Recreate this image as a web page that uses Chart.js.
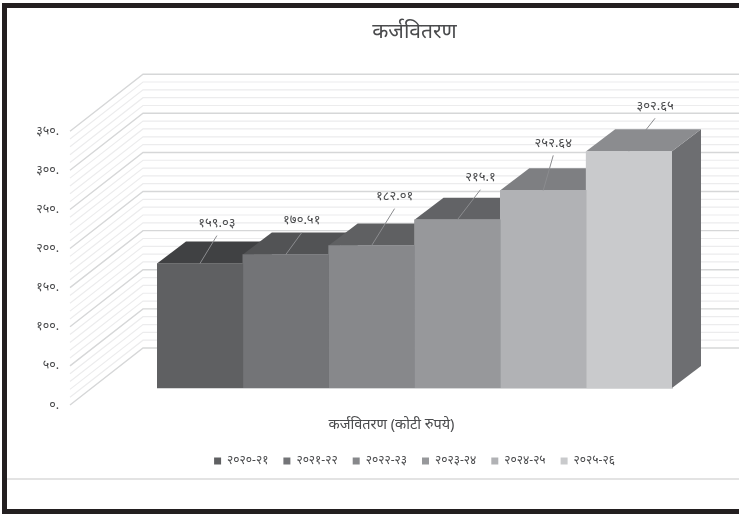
<!DOCTYPE html>
<html>
<head>
<meta charset="utf-8">
<script src="https://cdn.jsdelivr.net/npm/chart.js@4/dist/chart.umd.min.js"></script>
<style>
    html, body { margin: 0; padding: 0; background: #fff; }
    #wrap { position: relative; width: 739px; height: 514px; overflow: hidden; }
    #wrap canvas { position: absolute; left: 0; top: 0; }
    .frame { position: absolute; background: #231f20; }
</style>
</head>
<body>
<div id="wrap">
    <canvas id="LoanChart" width="739" height="514"></canvas>
    <div class="frame" style="left:2px;top:3px;width:737px;height:5px"></div>
    <div class="frame" style="left:2px;top:3px;width:5px;height:511px"></div>
    <div class="frame" style="left:2px;top:509px;width:737px;height:5px"></div>
    <div class="frame" style="left:7px;top:478px;width:732px;height:2px;background:#e3e3e3"></div>
</div>
<script>
var chartTitle = 'कर्जवितरण';
var categories = ['कर्जवितरण (कोटी रुपये)'];
var years = ['२०२०-२१', '२०२१-२२', '२०२२-२३', '२०२३-२४', '२०२४-२५', '२०२५-२६'];
var values = [159.03, 170.51, 182.01, 215.1, 252.64, 302.65];
var valueLabels = ['१५९.०३', '१७०.५१', '१८२.०१', '२१५.१', '२५२.६४', '३०२.६५'];
var yTickValues = [0, 50, 100, 150, 200, 250, 300, 350];
var yTickLabels = ['०.', '५०.', '१००.', '१५०.', '२००.', '२५०.', '३००.', '३५०.'];

var frontColors = ['#5f6062', '#737477', '#87888b', '#97989b', '#b1b2b5', '#c9cacc'];
var topColors = ['#404143', '#525355', '#5f6062', '#626366', '#7e7f82', '#8b8c8f'];
var sideColor = '#6d6e71';
var leaderOffsets = [[17, -28], [16, -22], [23, -37], [23, -30], [10, -35], [26, -33]];

var fontName = '"Noto Sans", "DejaVu Sans", sans-serif';
var textColor = '#4a4b4d';

// bars are extruded back by this much, the wall sits further back
var barDepth = { x: 29, y: -22 };
var wallBack = -40;
var wallFront = 17;
var wallLeft = 143;
var wallFrontLeft = 70;

var wallPlugin = {
    id: 'wall',
    beforeDatasetsDraw: function (chart) {
        var ctx = chart.ctx;
        var y = chart.scales.y;
        ctx.save();
        y.ticks.forEach(function (t) {
            var major = yTickValues.indexOf(t.value) >= 0;
            var p = y.getPixelForValue(t.value);
            ctx.strokeStyle = major ? '#d6d7d8' : '#ececed';
            ctx.lineWidth = major ? 1.4 : 1.2;
            ctx.beginPath();
            ctx.moveTo(wallFrontLeft, p + wallFront);
            ctx.lineTo(wallLeft, p + wallBack);
            ctx.lineTo(chart.width, p + wallBack);
            ctx.stroke();
            if (major) {
                ctx.fillStyle = textColor;
                ctx.font = '12.5px ' + fontName;
                ctx.textAlign = 'right';
                ctx.textBaseline = 'middle';
                ctx.fillText(yTickLabels[yTickValues.indexOf(t.value)], 59, p + wallFront);
            }
        });

        // top and right faces, left to right so each one hides the previous
        chart.data.datasets.forEach(function (ds, i) {
            var bar = chart.getDatasetMeta(i).data[0];
            var l = bar.x - bar.width / 2, r = bar.x + bar.width / 2;
            var t = bar.y, b = bar.base;
            ctx.fillStyle = sideColor;
            ctx.beginPath();
            ctx.moveTo(r, t);
            ctx.lineTo(r + barDepth.x, t + barDepth.y);
            ctx.lineTo(r + barDepth.x, b + barDepth.y);
            ctx.lineTo(r, b);
            ctx.closePath();
            ctx.fill();
            ctx.fillStyle = topColors[i];
            ctx.beginPath();
            ctx.moveTo(l, t);
            ctx.lineTo(l + barDepth.x, t + barDepth.y);
            ctx.lineTo(r + barDepth.x, t + barDepth.y);
            ctx.lineTo(r, t);
            ctx.closePath();
            ctx.fill();
        });
        ctx.restore();
    },
    afterDatasetsDraw: function (chart) {
        var ctx = chart.ctx;
        ctx.save();
        chart.data.datasets.forEach(function (ds, i) {
            var bar = chart.getDatasetMeta(i).data[0];
            var ex = bar.x + leaderOffsets[i][0];
            var ey = bar.y + leaderOffsets[i][1];
            ctx.strokeStyle = '#8b8c8f';
            ctx.lineWidth = 1;
            ctx.beginPath();
            ctx.moveTo(bar.x, bar.y);
            ctx.lineTo(ex, ey);
            ctx.stroke();
            ctx.fillStyle = textColor;
            ctx.font = '13px ' + fontName;
            ctx.textAlign = 'center';
            ctx.textBaseline = 'middle';
            ctx.fillText(valueLabels[i], ex, ey - 12);
        });
        ctx.restore();
    }
};

var ctx = document.getElementById('LoanChart').getContext('2d');
var myChart = new Chart(ctx, {
    type: 'bar',
    data: {
        labels: categories,
        datasets: years.map(function (year, i) {
            return { label: year, data: [values[i]], backgroundColor: frontColors[i], borderWidth: 0 };
        })
    },
    options: {
        responsive: false,
        animation: false,
        layout: { padding: { left: 157, right: 67, top: 0, bottom: 37 } },
        datasets: { bar: { categoryPercentage: 1, barPercentage: 1 } },
        plugins: {
            title: {
                display: true,
                text: chartTitle,
                color: textColor,
                font: { family: fontName, size: 21, weight: 'normal' },
                padding: { top: 19, bottom: 70 }
            },
            legend: {
                position: 'bottom',
                labels: {
                    color: textColor,
                    font: { family: fontName, size: 12 },
                    boxWidth: 7,
                    boxHeight: 7,
                    padding: 15
                }
            },
            tooltip: { enabled: false }
        },
        scales: {
            x: {
                grid: { display: false },
                border: { color: '#d6d7d8' },
                ticks: {
                    color: textColor,
                    font: { family: fontName, size: 14.5 },
                    padding: 20,
                    labelOffset: -23
                },
                afterFit: function (scale) { scale.height = 52; }
            },
            y: {
                display: false,
                min: 0,
                max: 350,
                ticks: { stepSize: 10, autoSkip: false }
            }
        }
    },
    plugins: [wallPlugin]
});
</script>
</body>
</html>
